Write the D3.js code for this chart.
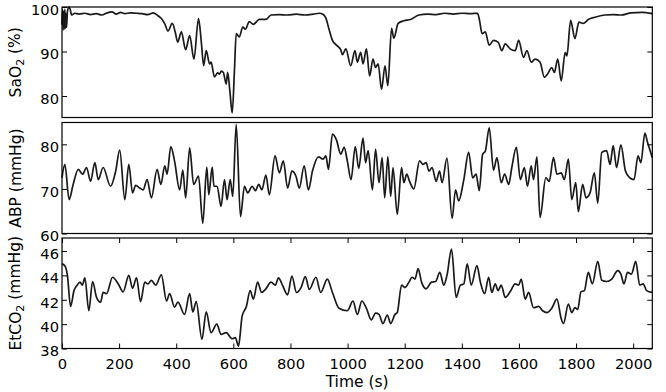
<!DOCTYPE html>
<html>
<head>
<meta charset="utf-8">
<script src="https://cdn.jsdelivr.net/npm/d3@7"></script>
<style>
  body { margin: 0; background: #fff; }
  text { font-family: "DejaVu Sans", sans-serif; fill: #000; }
</style>
</head>
<body>
<script>
// time axis (s)
var timeTicks = [0, 200, 400, 600, 800, 1000, 1200, 1400, 1600, 1800, 2000];

// SaO2 (%) as [time, value]
var sao2 = [[0,96],[2,99.5],[4,94.8],[6,99],[8,95],[10,99.5],[12,95.2],[14,98.5],[16,95.5],[19,99],[24,100],[28,99.6],
  [34,98.2],[45,98.6],[60,98.4],[80,98.6],[100,98.3],[120,98.5],[140,98.2],[155,98.6],[175,98.9],[190,98.4],[205,98.8],
  [220,98.5],[240,98.7],[260,98.6],[280,98.5],[300,98.3],[320,98.7],[335,98.1],[348,97.4],[360,96.2],[371,94.6],[386,96.3],
  [396,94.5],[405,92.1],[418,94.4],[433,90.4],[447,93.6],[462,88.3],[478,97.4],[488,92],[496,86.8],[505,90.2],[517,87.2],
  [522,87.6],[534,84.3],[545,85.2],[551,84.9],[558,85.6],[565,85.3],[575,82.7],[580,85.3],[588,81],[596,76.2],[604,86],
  [610,94],[621,93.3],[633,95.5],[642,95],[656,96.7],[670,96.1],[691,97.2],[714,97.2],[732,98.2],[760,98.3],[790,98.2],
  [820,98.4],[850,98.2],[880,98.4],[900,98.6],[915,98.3],[924,97.5],[935,95],[947,92.5],[960,91.5],[976,90.4],[982,89.3],
  [994,90.6],[1011,86.8],[1026,90.2],[1034,87.6],[1046,89.8],[1054,87.2],[1066,90.6],[1077,84.5],[1089,88.3],[1098,86.4],
  [1107,87.2],[1119,81.5],[1131,86.8],[1141,82.3],[1154,95.2],[1162,93],[1177,96.3],[1197,96.9],[1220,97.2],[1250,98.2],
  [1280,98.4],[1310,98.3],[1340,98.6],[1370,98.4],[1400,98.6],[1430,98.5],[1455,98.6],[1462,97],[1471,94],[1482,94.4],
  [1496,91.4],[1511,92.5],[1527,92.1],[1540,90.2],[1552,91.7],[1569,90.6],[1587,90.2],[1599,92.5],[1616,88.7],[1628,90.2],
  [1643,87.6],[1657,88.3],[1674,87.6],[1689,84.2],[1701,85],[1715,86.4],[1724,85.3],[1736,88.3],[1748,83.4],[1762,89.8],
  [1768,89],[1781,97],[1796,92.9],[1810,96.6],[1825,96.3],[1843,97.2],[1866,97.7],[1901,98.2],[1930,98.3],[1959,98.2],
  [1993,98.7],[2030,98.8],[2067,98.5]];

// ABP (mmHg)
var abp = [[0,72.5],[10,75.5],[25,67.6],[39,71],[57,74.4],[72,73.3],[86,74.8],[100,71.7],[115,75.9],[127,72.1],[144,74.8],
  [170,70.6],[188,74],[202,78.7],[220,67.6],[234,75.5],[247,69.1],[258,70.8],[272,70.2],[284,69.8],[298,72.1],[313,68],
  [333,74.4],[346,71],[360,75.2],[368,73.3],[381,79.5],[394,76.3],[412,69.8],[423,74.2],[433,68],[447,79.2],[461,71],
  [478,72.9],[493,62.3],[507,74.9],[514,68.7],[526,74.9],[532,70.6],[543,70.6],[557,66.1],[569,72.1],[578,67.6],[589,72.1],
  [598,68.3],[610,84.5],[625,63.8],[639,70.6],[650,69.1],[666,70.6],[677,69.6],[689,71],[700,69.8],[714,73.1],[726,68.7],
  [746,77.4],[761,73.6],[775,76.3],[790,70.2],[805,74],[819,72.9],[831,70.2],[848,75.2],[863,69.8],[877,74],[898,77.2],
  [914,76.7],[924,77.4],[933,74.4],[947,82.3],[961,81],[976,77.8],[988,79.3],[999,76.3],[1012,72.1],[1027,79.5],[1039,74.6],
  [1054,81.4],[1063,75.9],[1072,78.6],[1087,69.8],[1098,78.9],[1110,71.4],[1121,77],[1130,68],[1141,77.2],[1151,68.3],
  [1159,74.8],[1174,64.3],[1189,74.8],[1197,71.4],[1207,73.3],[1217,71.7],[1232,70],[1252,76.3],[1264,75.5],[1275,75.9],
  [1285,74],[1296,74.8],[1310,71.7],[1322,74],[1331,71.4],[1348,76.9],[1366,63.4],[1378,69.8],[1389,67.3],[1407,72.1],
  [1424,78.2],[1438,72.5],[1450,73.3],[1461,69.6],[1473,77.8],[1482,78.4],[1496,83.7],[1511,74.2],[1523,77],[1538,71.4],
  [1550,73.3],[1564,71],[1575,74.8],[1591,79.3],[1605,72.1],[1619,74.8],[1630,70.6],[1643,75.2],[1651,72.1],[1663,77.2],
  [1674,63.6],[1694,72.5],[1706,71.7],[1721,77],[1733,73.3],[1748,73.6],[1759,72.1],[1773,76.7],[1785,67.6],[1799,71.4],
  [1808,64.9],[1823,71],[1835,68],[1849,69.1],[1864,73.6],[1876,66.8],[1890,78.2],[1907,78.6],[1919,75.5],[1930,79.7],
  [1942,74.8],[1957,79.9],[1973,74],[1988,72.5],[2003,72.1],[2017,77.4],[2027,75.9],[2041,82.5],[2050,80.5],[2067,77]];

// EtCO2 (mmHg)
var etco2 = [[0,44.95],[10,44.8],[19,44],[30,41.45],[42,42.75],[53,43.2],[63,43.45],[71,43.2],[80,43.8],[94,41.1],
  [107,43.5],[121,42.2],[135,41.8],[144,42.6],[156,42.5],[177,43.85],[197,43.3],[214,42.65],[234,44],[247,42.95],[261,43.8],
  [275,41.85],[290,43.45],[301,43.3],[313,43.6],[328,43.2],[348,44.05],[366,41.9],[377,42.5],[394,41.4],[406,41.8],[429,40.8],
  [447,42.5],[458,41],[470,41.85],[490,38.75],[505,41],[522,39.3],[542,40],[557,39.15],[575,39.3],[596,38.8],[607,38.9],
  [618,38.2],[631,40.7],[645,41.4],[659,42.75],[670,42.05],[685,43.45],[699,42.6],[714,42.9],[732,43.45],[747,43.2],
  [758,43.8],[772,43.2],[790,42.4],[805,43.95],[821,42.6],[837,43],[852,43.9],[866,42.85],[889,43.85],[906,42.6],[929,43.7],
  [947,42.6],[970,41.3],[999,41.1],[1019,41.9],[1034,40.8],[1050,41.9],[1066,41.3],[1083,40.35],[1098,40.9],[1110,40.8],
  [1124,40.05],[1139,40.75],[1151,40.05],[1166,40.8],[1174,40.95],[1189,43.2],[1201,43],[1215,43.45],[1226,43.85],
  [1236,43.7],[1247,44.55],[1259,43.45],[1275,42.9],[1294,43.45],[1308,43.5],[1323,44.25],[1337,43.2],[1348,44],
  [1364,46.15],[1380,42.2],[1395,43.2],[1407,43.3],[1419,44.95],[1433,43.2],[1453,44.8],[1465,43.45],[1480,42.5],
  [1494,43.85],[1505,42.6],[1517,43.3],[1527,42.75],[1538,43.2],[1552,42.2],[1569,42.65],[1587,43.3],[1599,43.2],
  [1608,43.7],[1622,42.05],[1634,42.6],[1651,41.35],[1669,41.45],[1683,41.1],[1699,40.95],[1715,41.3],[1733,42.05],
  [1748,40.45],[1756,40.05],[1773,41.65],[1785,40.95],[1796,41.35],[1806,41.2],[1817,42.65],[1829,42.75],[1843,44.25],
  [1857,43.3],[1876,45.15],[1890,43.6],[1907,43.5],[1925,43.7],[1946,44.4],[1957,44.1],[1968,43.3],[1980,44.25],
  [1994,44.1],[2009,45.15],[2023,43.2],[2035,43.3],[2047,42.75],[2067,42.6]];

// y tick labels for each panel
var sao2Ticks = [80, 90, 100];
var abpTicks = [60, 70, 80];
var etco2Ticks = [38, 40, 42, 44, 46];

var W = 666, H = 392;
var left = 62, right = 652.3;

var svg = d3.select("body").append("svg")
    .attr("width", W)
    .attr("height", H);

var x = d3.scaleLinear()
    .domain([0, 2067])
    .range([left, right]);

// one panel: frame, inward ticks on both sides, line, label
function panel(data, domain, ticks, label, top, bottom, showX) {
  var y = d3.scaleLinear().domain(domain).range([bottom, top]);
  var g = svg.append("g");

  var line = d3.line()
      .curve(d3.curveMonotoneX)
      .x(function(d) { return x(d[0]); })
      .y(function(d) { return y(d[1]); });

  g.append("path")
      .datum(data)
      .attr("d", line)
      .attr("fill", "none")
      .attr("stroke", "#1a1a1a")
      .attr("stroke-width", 1.7)
      .attr("stroke-linejoin", "round");

  // left axis with labels, ticks pointing in
  g.append("g")
      .attr("transform", "translate(" + left + ",0)")
      .call(d3.axisLeft(y).tickValues(ticks).tickSize(-5).tickPadding(3))
      .call(function(a) { a.select(".domain").remove(); })
      .selectAll("text").attr("dy", "0.5em");

  g.append("g")
      .attr("transform", "translate(" + right + ",0)")
      .call(d3.axisRight(y).tickValues(ticks).tickSize(-5).tickFormat(""))
      .call(function(a) { a.select(".domain").remove(); });

  if (showX) {
    g.append("g")
        .attr("transform", "translate(0," + bottom + ")")
        .call(d3.axisBottom(x).tickValues(timeTicks).tickSize(-5).tickPadding(10).tickFormat(d3.format("d")))
        .call(function(a) { a.select(".domain").remove(); });
    g.append("g")
        .attr("transform", "translate(0," + top + ")")
        .call(d3.axisTop(x).tickValues(timeTicks).tickSize(-5).tickFormat(""))
        .call(function(a) { a.select(".domain").remove(); });
  }

  g.selectAll(".tick line").attr("stroke", "#000").attr("stroke-width", 1);
  g.selectAll(".tick text")
      .style("font-family", "DejaVu Sans, sans-serif")
      .style("font-size", "14.7px")
      .attr("fill", "#000");

  g.append("rect")
      .attr("x", left)
      .attr("y", top)
      .attr("width", right - left)
      .attr("height", bottom - top)
      .attr("fill", "none")
      .attr("stroke", "#000")
      .attr("stroke-width", 1.2);

  // rotated y label, subscript handled with tspans
  var t = g.append("text")
      .attr("transform", "translate(21," + (top + bottom) / 2 + ") rotate(-90)")
      .attr("text-anchor", "middle")
      .style("font-size", "15.5px");
  label.forEach(function(p) {
    var s = t.append("tspan").text(p.text);
    if (p.sub) s.attr("dy", "0.3em").style("font-size", "11px");
    if (p.after) s.attr("dy", "-0.3em");
  });
}

panel(sao2, [75.17, 100], sao2Ticks,
  [{text: "SaO"}, {text: "2", sub: true}, {text: " (%)", after: true}], 7, 117.5, false);
panel(abp, [60, 84.9], abpTicks,
  [{text: "ABP (mmHg)"}], 122.5, 233.5, false);
panel(etco2, [38, 47.07], etco2Ticks,
  [{text: "EtCO"}, {text: "2", sub: true}, {text: " (mmHg)", after: true}], 238, 348.5, true);

svg.append("text")
    .attr("x", (left + right) / 2)
    .attr("y", 386.5)
    .attr("text-anchor", "middle")
    .style("font-size", "15.5px")
    .text("Time (s)");
</script>
</body>
</html>
